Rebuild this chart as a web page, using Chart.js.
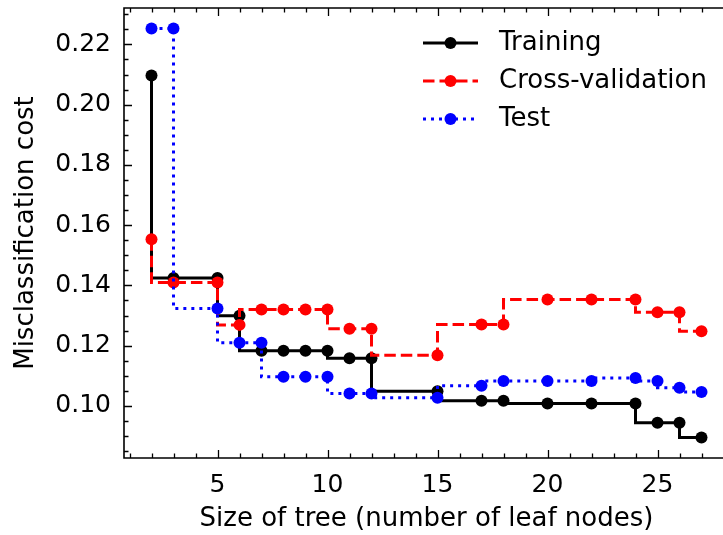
<!DOCTYPE html>
<html>
<head>
<meta charset="utf-8">
<script src="https://cdn.jsdelivr.net/npm/chart.js@4.4.0/dist/chart.umd.min.js"></script>
<style>
  html, body { margin: 0; padding: 0; background: #fff; overflow: hidden; }
  #wrap { width: 723px; height: 535px; overflow: hidden; }
</style>
</head>
<body>
<div id="wrap"><canvas id="chart" width="735" height="535"></canvas></div>
<script>
// tree sizes (x) and the three cost curves
const treeSize = [2, 3, 5, 6, 7, 8, 9, 10, 11, 12, 15, 17, 18, 20, 22, 24, 25, 26, 27];
const trainingCost = [0.2097, 0.1425, 0.1425, 0.1299, 0.1183, 0.1183, 0.1183, 0.1183, 0.1158, 0.1158,
                      0.1049, 0.1017, 0.1017, 0.1008, 0.1008, 0.1008, 0.0944, 0.0944, 0.0895];
const cvCost = [0.1553, 0.1410, 0.1410, 0.1269, 0.1320, 0.1320, 0.1320, 0.1320, 0.1256, 0.1256,
                0.1168, 0.1270, 0.1270, 0.1353, 0.1353, 0.1353, 0.1311, 0.1311, 0.1248];
const testCost = [0.2253, 0.2253, 0.1323, 0.1210, 0.1210, 0.1097, 0.1097, 0.1097, 0.1041, 0.1041,
                  0.1027, 0.1067, 0.1083, 0.1083, 0.1083, 0.1093, 0.1083, 0.1060, 0.1046];
const seriesNames = ['Training', 'Cross-validation', 'Test'];
const xTickValues = [5, 10, 15, 20, 25];
const yTickValues = [0.10, 0.12, 0.14, 0.16, 0.18, 0.20, 0.22];

const FONT = '"DejaVu Sans", sans-serif';
const FS = 25;      // tick labels
const FS_LBL = 26;  // axis titles and legend

// matplotlib-like 5% margins
const allY = trainingCost.concat(cvCost, testCost);
const yLo = Math.min(...allY), yHi = Math.max(...allY);
const xLo = Math.min(...treeSize), xHi = Math.max(...treeSize);
const yPad = (yHi - yLo) * 0.05, xPad = (xHi - xLo) * 0.05;

function toPoints(vals) {
    return treeSize.map((x, i) => ({ x: x, y: vals[i] }));
}

function makeSet(label, vals, color, dash, order) {
    return {
        label: label,
        data: toPoints(vals),
        borderColor: color,
        backgroundColor: color,
        pointBackgroundColor: color,
        pointBorderWidth: 0,
        pointRadius: 6,
        pointHoverRadius: 6,
        borderWidth: 3,
        borderDash: dash,
        stepped: 'after',
        fill: false,
        order: order
    };
}

function noPad(s) {
    s.paddingTop = 0; s.paddingBottom = 0;
    s.paddingLeft = 0; s.paddingRight = 0;
}

const frameTicks = {
    id: 'frameTicks',
    afterDatasetsDraw(chart) {
        const { ctx, chartArea: a, scales } = chart;
        const xs = scales.x, ys = scales.y;
        ctx.save();
        ctx.strokeStyle = '#000';
        ctx.lineWidth = 1.6;
        ctx.beginPath();
        ctx.moveTo(a.right + 2, a.top);
        ctx.lineTo(a.left, a.top);
        ctx.lineTo(a.left, a.bottom);
        ctx.lineTo(a.right + 2, a.bottom);
        ctx.stroke();

        ctx.lineWidth = 1.3;
        ctx.beginPath();
        // x ticks, bottom and top, inward
        for (let v = 1; v <= 28; v++) {
            const len = v % 5 === 0 ? 8 : 4.5;
            const px = Math.round(xs.getPixelForValue(v)) + 0.5;
            ctx.moveTo(px, a.bottom); ctx.lineTo(px, a.bottom - len);
            ctx.moveTo(px, a.top); ctx.lineTo(px, a.top + len);
        }
        // y ticks on the left, inward
        for (let k = 17; k <= 46; k++) {
            const v = k * 0.005;
            if (v < ys.min || v > ys.max) continue;
            const len = k % 4 === 0 ? 8 : 4.5;
            const py = Math.round(ys.getPixelForValue(v)) + 0.5;
            ctx.moveTo(a.left, py); ctx.lineTo(a.left + len, py);
        }
        ctx.stroke();
        ctx.restore();
    },
    afterDraw(chart) {
        const { ctx } = chart;
        const rows = [43, 81, 119];
        ctx.save();
        chart.data.datasets.forEach((ds, i) => {
            const y = rows[i];
            ctx.strokeStyle = ds.borderColor;
            ctx.lineWidth = ds.borderWidth;
            ctx.setLineDash(ds.borderDash);
            ctx.beginPath();
            ctx.moveTo(423, y);
            ctx.lineTo(478, y);
            ctx.stroke();
            ctx.setLineDash([]);
            ctx.fillStyle = ds.borderColor;
            ctx.beginPath();
            ctx.arc(450.5, y, 6, 0, Math.PI * 2);
            ctx.fill();
            ctx.fillStyle = '#000';
            ctx.font = FS_LBL + 'px ' + FONT;
            ctx.textBaseline = 'middle';
            ctx.textAlign = 'left';
            ctx.fillText(ds.label, 499, y);
        });
        ctx.restore();
    }
};

new Chart(document.getElementById('chart'), {
    type: 'line',
    data: {
        datasets: [
            makeSet(seriesNames[0], trainingCost, '#000000', [], 2),
            makeSet(seriesNames[1], cvCost, '#ff0000', [11.5, 5], 1),
            makeSet(seriesNames[2], testCost, '#0000ff', [3, 5], 0)
        ]
    },
    options: {
        responsive: false,
        animation: false,
        events: [],
        layout: { padding: { top: 8, right: 0, left: 0, bottom: 0 } },
        plugins: { legend: { display: false }, tooltip: { enabled: false } },
        scales: {
            x: {
                type: 'linear',
                min: xLo - xPad,
                max: xHi + xPad,
                grid: { display: false, drawTicks: false },
                border: { display: false },
                afterBuildTicks: s => { s.ticks = xTickValues.map(v => ({ value: v })); },
                afterFit: s => { s.height = 77; noPad(s); },
                ticks: {
                    color: '#000',
                    padding: 12,
                    maxRotation: 0,
                    font: { family: FONT, size: FS },
                    callback: v => String(v)
                },
                title: {
                    display: true,
                    text: 'Size of tree (number of leaf nodes)',
                    color: '#000',
                    font: { family: FONT, size: FS_LBL },
                    padding: { top: 0, bottom: 0 }
                }
            },
            y: {
                type: 'linear',
                min: yLo - yPad,
                max: yHi + yPad,
                grid: { display: false, drawTicks: false },
                border: { display: false },
                afterBuildTicks: s => { s.ticks = yTickValues.map(v => ({ value: v })); },
                afterFit: s => { s.width = 124; noPad(s); },
                ticks: {
                    color: '#000',
                    padding: 13,
                    font: { family: FONT, size: FS },
                    callback: v => v.toFixed(2)
                },
                title: {
                    display: true,
                    text: 'Misclassification cost',
                    color: '#000',
                    font: { family: FONT, size: FS_LBL },
                    padding: { top: 11, bottom: 0 }
                }
            }
        }
    },
    plugins: [frameTicks]
});
</script>
</body>
</html>
